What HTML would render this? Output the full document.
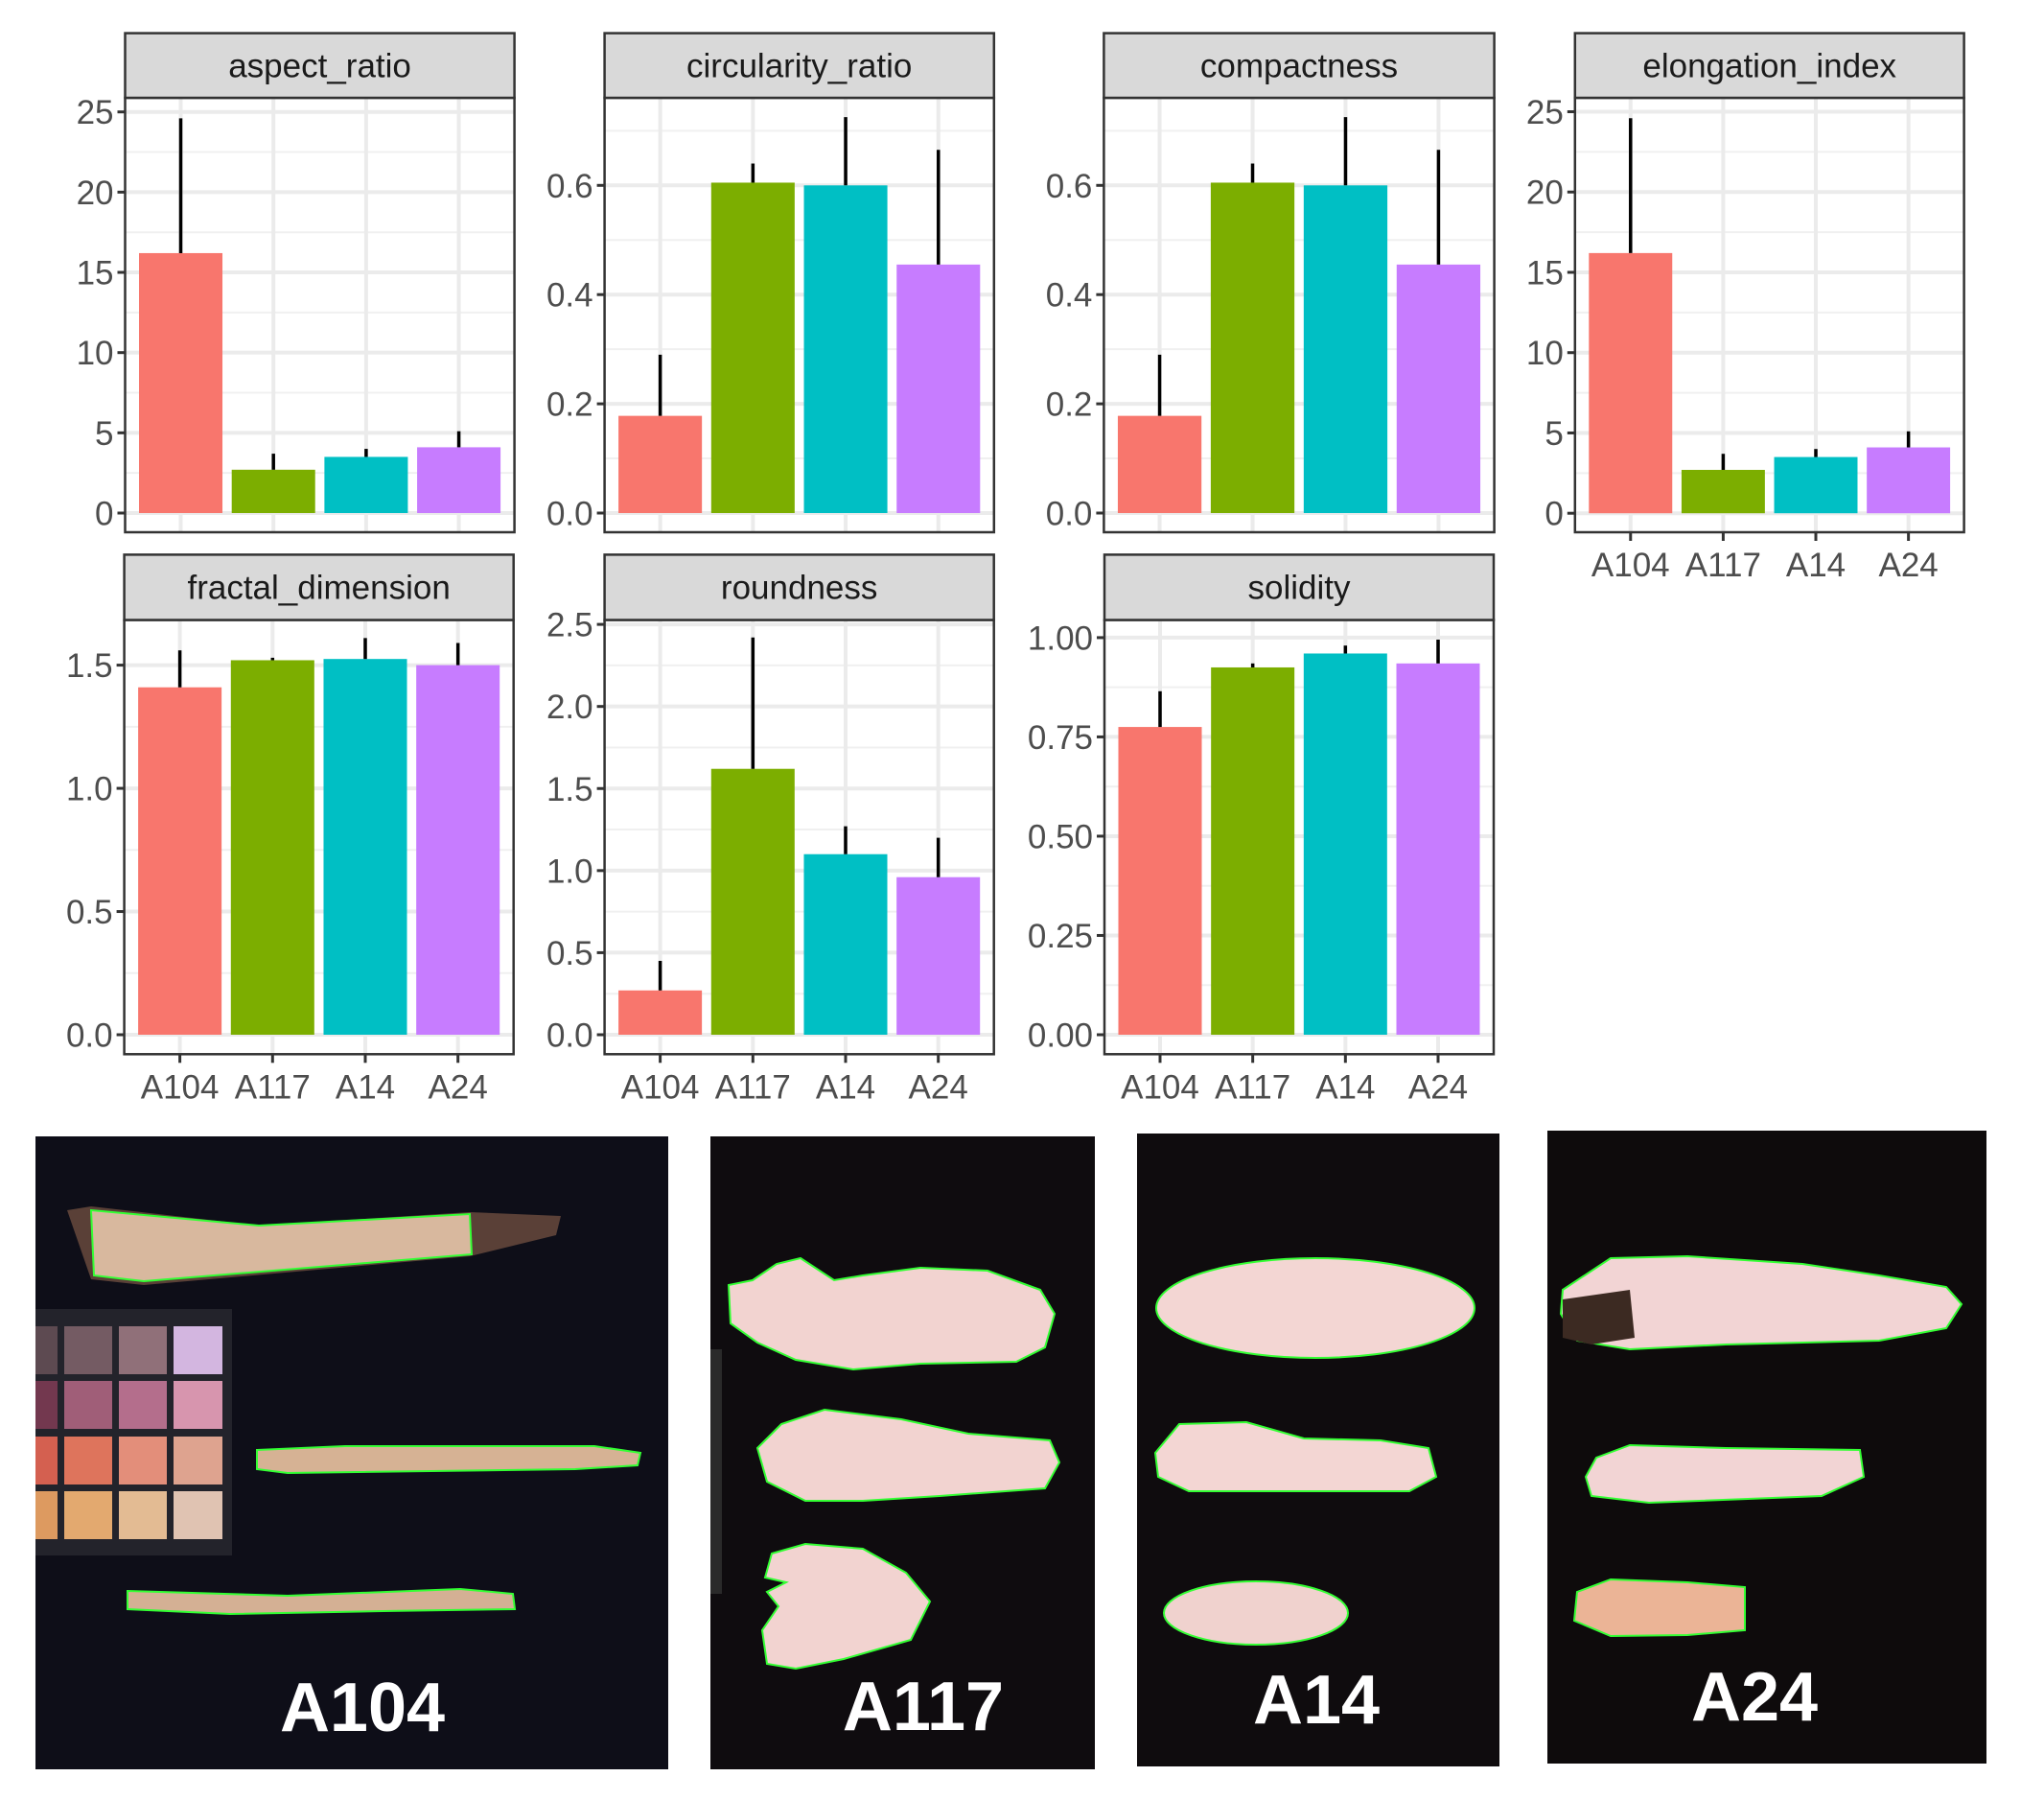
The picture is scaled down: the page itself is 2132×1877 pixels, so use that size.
<!DOCTYPE html>
<html><head><meta charset="utf-8">
<style>
html,body{margin:0;padding:0;background:#fff;}
svg{display:block;}
</style></head>
<body>
<svg id="fig" xmlns="http://www.w3.org/2000/svg" width="2132" height="1877" viewBox="0 0 2132 1877" font-family="Liberation Sans, Arial, sans-serif">
<g id="charts"></g>
<g id="photos">
  <g>
    <rect x="37" y="1185" width="660" height="660" fill="#0e0e18"/>
    <rect x="37" y="1365" width="205" height="257" fill="#23232b"/>
    <g>
      <rect x="37" y="1383" width="23" height="50" fill="#5d4a51"/><rect x="67" y="1383" width="50" height="50" fill="#745b63"/><rect x="124" y="1383" width="50" height="50" fill="#907079"/><rect x="181" y="1383" width="51" height="50" fill="#d3b6e0"/>
      <rect x="37" y="1440" width="23" height="50" fill="#73384f"/><rect x="67" y="1440" width="50" height="50" fill="#a05e78"/><rect x="124" y="1440" width="50" height="50" fill="#b46e8c"/><rect x="181" y="1440" width="51" height="50" fill="#d795ae"/>
      <rect x="37" y="1498" width="23" height="50" fill="#d46050"/><rect x="67" y="1498" width="50" height="50" fill="#de745c"/><rect x="124" y="1498" width="50" height="50" fill="#e38e7a"/><rect x="181" y="1498" width="51" height="50" fill="#dea38f"/>
      <rect x="37" y="1555" width="23" height="50" fill="#dd9a60"/><rect x="67" y="1555" width="50" height="50" fill="#e3a96f"/><rect x="124" y="1555" width="50" height="50" fill="#e3bb93"/><rect x="181" y="1555" width="51" height="50" fill="#e0c3b2"/>
    </g>
    <path d="M70,1262 L95,1258 L270,1278 L490,1264 L585,1268 L580,1288 L490,1310 L150,1340 L95,1334 Z" fill="#5a4037"/>
    <path d="M95,1262 L270,1278 L490,1266 L492,1308 L150,1336 L98,1330 Z" fill="#d8b89e" stroke="#3f3" stroke-width="2"/>
    <path d="M268,1512 L360,1508 L620,1508 L668,1515 L665,1528 L600,1532 L300,1536 L268,1532 Z" fill="#d6b294" stroke="#3f3" stroke-width="2"/>
    <path d="M133,1659 L300,1664 L480,1657 L535,1662 L537,1678 L400,1680 L240,1683 L133,1678 Z" fill="#d4b094" stroke="#3f3" stroke-width="2"/>
    <text x="378" y="1805" text-anchor="middle" font-size="72" font-weight="bold" fill="#fff">A104</text>
  </g>
  <g>
    <rect x="741" y="1185" width="401" height="660" fill="#0f0c0f"/>
    <rect x="741" y="1407" width="12" height="255" fill="#2a2a2a"/>
    <path d="M760,1340 L785,1335 L810,1318 L835,1312 L870,1335 L900,1330 L960,1322 L1030,1325 L1085,1345 L1100,1370 L1090,1405 L1060,1420 L960,1422 L890,1428 L830,1418 L790,1400 L762,1380 Z" fill="#f2d3d0" stroke="#3f3" stroke-width="2"/>
    <path d="M790,1510 L815,1485 L860,1470 L940,1480 L1010,1495 L1095,1502 L1105,1525 L1090,1552 L980,1560 L900,1565 L840,1565 L800,1545 Z" fill="#f2d3d0" stroke="#3f3" stroke-width="2"/>
    <path d="M805,1620 L840,1610 L900,1615 L945,1640 L970,1670 L950,1710 L880,1730 L830,1740 L800,1735 L795,1700 L812,1675 L800,1660 L820,1650 L798,1645 Z" fill="#f2d3d0" stroke="#3f3" stroke-width="2"/>
    <text x="963" y="1804" text-anchor="middle" font-size="72" font-weight="bold" fill="#fff">A117</text>
  </g>
  <g>
    <rect x="1186" y="1182" width="378" height="660" fill="#0f0c0e"/>
    <ellipse cx="1372" cy="1364" rx="166" ry="52" fill="#f3d6d3" stroke="#3f3" stroke-width="2"/>
    <path d="M1205,1515 L1230,1485 L1300,1483 L1360,1500 L1440,1502 L1490,1510 L1498,1540 L1470,1555 L1350,1555 L1240,1555 L1208,1540 Z" fill="#f3d6d3" stroke="#3f3" stroke-width="2"/>
    <ellipse cx="1310" cy="1682" rx="96" ry="33" fill="#f0d2ce" stroke="#3f3" stroke-width="2"/>
    <text x="1373" y="1797" text-anchor="middle" font-size="72" font-weight="bold" fill="#fff">A14</text>
  </g>
  <g>
    <rect x="1614" y="1179" width="458" height="660" fill="#0e0b0c"/>
    <path d="M1630,1345 L1680,1312 L1760,1310 L1880,1318 L1960,1330 L2030,1342 L2046,1360 L2030,1385 L1960,1398 L1800,1402 L1700,1407 L1645,1398 L1628,1370 Z" fill="#f2d4d4" stroke="#3f3" stroke-width="2"/>
    <path d="M1630,1355 L1700,1345 L1705,1395 L1660,1402 L1630,1395 Z" fill="#3c2a22"/>
    <path d="M1665,1520 L1700,1507 L1800,1510 L1940,1512 L1944,1540 L1900,1560 L1720,1567 L1660,1560 L1654,1540 Z" fill="#f2d4d4" stroke="#3f3" stroke-width="2"/>
    <path d="M1645,1660 L1680,1647 L1760,1650 L1820,1655 L1820,1700 L1760,1705 L1680,1706 L1642,1690 Z" fill="#ebb496" stroke="#3f3" stroke-width="2"/>
    <text x="1830" y="1794" text-anchor="middle" font-size="72" font-weight="bold" fill="#fff">A24</text>
  </g>
</g>
</svg>
<script>
// ---- data ----
const categories = ["A104", "A117", "A14", "A24"];
const barColors = ["#F8766D", "#7CAE00", "#00BFC4", "#C77CFF"];
const panelNames = ["aspect_ratio","circularity_ratio","compactness","elongation_index","fractal_dimension","roundness","solidity"];
const aspectMeans = [16.2, 2.7, 3.5, 4.1];
const aspectUpper = [24.6, 3.7, 4.0, 5.1];
const circMeans = [0.178, 0.605, 0.600, 0.455];
const circUpper = [0.29, 0.64, 0.725, 0.665];
const compMeans = [0.178, 0.605, 0.600, 0.455];
const compUpper = [0.29, 0.64, 0.725, 0.665];
const elongMeans = [16.2, 2.7, 3.5, 4.1];
const elongUpper = [24.6, 3.7, 4.0, 5.1];
const fractalMeans = [1.41, 1.52, 1.525, 1.50];
const fractalUpper = [1.56, 1.53, 1.61, 1.59];
const roundMeans = [0.27, 1.62, 1.10, 0.96];
const roundUpper = [0.45, 2.42, 1.27, 1.20];
const solidMeans = [0.775, 0.925, 0.960, 0.935];
const solidUpper = [0.865, 0.935, 0.980, 0.995];
const ticks25 = [0, 5, 10, 15, 20, 25];
const tickLabels25 = ["0","5","10","15","20","25"];
const ticks06 = [0, 0.2, 0.4, 0.6];
const tickLabels06 = ["0.0","0.2","0.4","0.6"];
const ticks15 = [0, 0.5, 1.0, 1.5];
const tickLabels15 = ["0.0","0.5","1.0","1.5"];
const ticks25r = [0, 0.5, 1.0, 1.5, 2.0, 2.5];
const tickLabels25r = ["0.0","0.5","1.0","1.5","2.0","2.5"];
const ticks1 = [0, 0.25, 0.5, 0.75, 1.0];
const tickLabels1 = ["0.00","0.25","0.50","0.75","1.00"];

const means = [aspectMeans, circMeans, compMeans, elongMeans, fractalMeans, roundMeans, solidMeans];
const uppers = [aspectUpper, circUpper, compUpper, elongUpper, fractalUpper, roundUpper, solidUpper];
const tickSets = [ticks25, ticks06, ticks06, ticks25, ticks15, ticks25r, ticks1];
const tickLabelSets = [tickLabels25, tickLabels06, tickLabels06, tickLabels25, tickLabels15, tickLabels25r, tickLabels1];

// ---- layout (pixels) ----
const layout = [
  {x0:130.5,x1:536.6,sTop:34.6,sBot:102,pBot:555,zeroY:535,refY:116.7,xlab:false},
  {x0:630.6,x1:1036.8,sTop:34.6,sBot:102,pBot:555,zeroY:535,refY:193.3,xlab:false},
  {x0:1151.4,x1:1558.6,sTop:34.6,sBot:102,pBot:555,zeroY:535,refY:193.3,xlab:false},
  {x0:1642.8,x1:2048.6,sTop:34.6,sBot:102,pBot:555,zeroY:535.2,refY:116.5,xlab:true},
  {x0:129.6,x1:535.7,sTop:578.4,sBot:646.5,pBot:1099.3,zeroY:1079,refY:693.6,xlab:true},
  {x0:630.6,x1:1036.7,sTop:578.4,sBot:646.5,pBot:1099.3,zeroY:1079,refY:651.1,xlab:true},
  {x0:1152,x1:1558,sTop:578.4,sBot:646.5,pBot:1099.3,zeroY:1079,refY:664.9,xlab:true}
];

const NS = "http://www.w3.org/2000/svg";
const root = document.getElementById("charts");
function mk(tag, attrs, parent){
  const e = document.createElementNS(NS, tag);
  for (const k in attrs) e.setAttribute(k, attrs[k]);
  parent.appendChild(e);
  return e;
}

panelNames.forEach((name, p) => {
  const L = layout[p];
  const ticks = tickSets[p], labels = tickLabelSets[p];
  const maxTick = ticks[ticks.length-1];
  const yScale = v => L.zeroY - v * (L.zeroY - L.refY) / maxTick;
  const unit = (L.x1 - L.x0) / 4.2;
  const xScale = i => L.x0 + unit * (i + 0.6);
  const g = mk("g", {}, root);
  
  
  mk("rect", {x:L.x0, y:L.sBot, width:L.x1-L.x0, height:L.pBot-L.sBot, fill:"#fff"}, g);
  const step = ticks[1]-ticks[0];
  for (let v = -step/2; yScale(v) > L.sBot; v += step) {
    const y = yScale(v);
    if (y < L.pBot && y > L.sBot) mk("line", {x1:L.x0, x2:L.x1, y1:y, y2:y, stroke:"#f0f0f0", "stroke-width":2}, g);
  }
  ticks.forEach(t => { const y = yScale(t); mk("line", {x1:L.x0, x2:L.x1, y1:y, y2:y, stroke:"#ebebeb", "stroke-width":4}, g); });
  categories.forEach((c,i) => { const x = xScale(i); mk("line", {x1:x, x2:x, y1:L.sBot, y2:L.pBot, stroke:"#ebebeb", "stroke-width":4}, g); });
  categories.forEach((c,i) => {
    const cx = xScale(i), w = unit*0.9;
    const yv = yScale(means[p][i]);
    const bar = mk("rect", {x:cx-w/2, y:yv, width:w, height:L.zeroY-yv, fill:barColors[i]}, g);
    
    
    const eb = mk("line", {x1:cx, x2:cx, y1:yv, y2:yScale(uppers[p][i]), stroke:"#000", "stroke-width":3.5}, g);
    
    
  });
  mk("rect", {x:L.x0, y:L.sBot, width:L.x1-L.x0, height:L.pBot-L.sBot, fill:"none", stroke:"#333", "stroke-width":2.5}, g);
  const strip = mk("rect", {x:L.x0, y:L.sTop, width:L.x1-L.x0, height:L.sBot-L.sTop, fill:"#d9d9d9", stroke:"#333", "stroke-width":2.5}, g);
  
  
  const st = mk("text", {x:(L.x0+L.x1)/2, y:(L.sTop+L.sBot)/2+12, "text-anchor":"middle", "font-size":35, fill:"#1a1a1a"}, g);
  st.textContent = name;
  
  
  ticks.forEach((t,k) => {
    const y = yScale(t);
    mk("line", {x1:L.x0-8, x2:L.x0, y1:y, y2:y, stroke:"#333", "stroke-width":3}, g);
    const tl = mk("text", {x:L.x0-12, y:y+12.5, "text-anchor":"end", "font-size":35, fill:"#4d4d4d"}, g);
    tl.textContent = labels[k];
    
    
  });
  if (L.xlab) {
    categories.forEach((c,i) => {
      const x = xScale(i);
      mk("line", {x1:x, x2:x, y1:L.pBot, y2:L.pBot+9, stroke:"#333", "stroke-width":3}, g);
      const xl = mk("text", {x:x, y:L.pBot+46, "text-anchor":"middle", "font-size":35, fill:"#4d4d4d"}, g);
      xl.textContent = c;
      
      
    });
  }
});
</script>
</body></html>
